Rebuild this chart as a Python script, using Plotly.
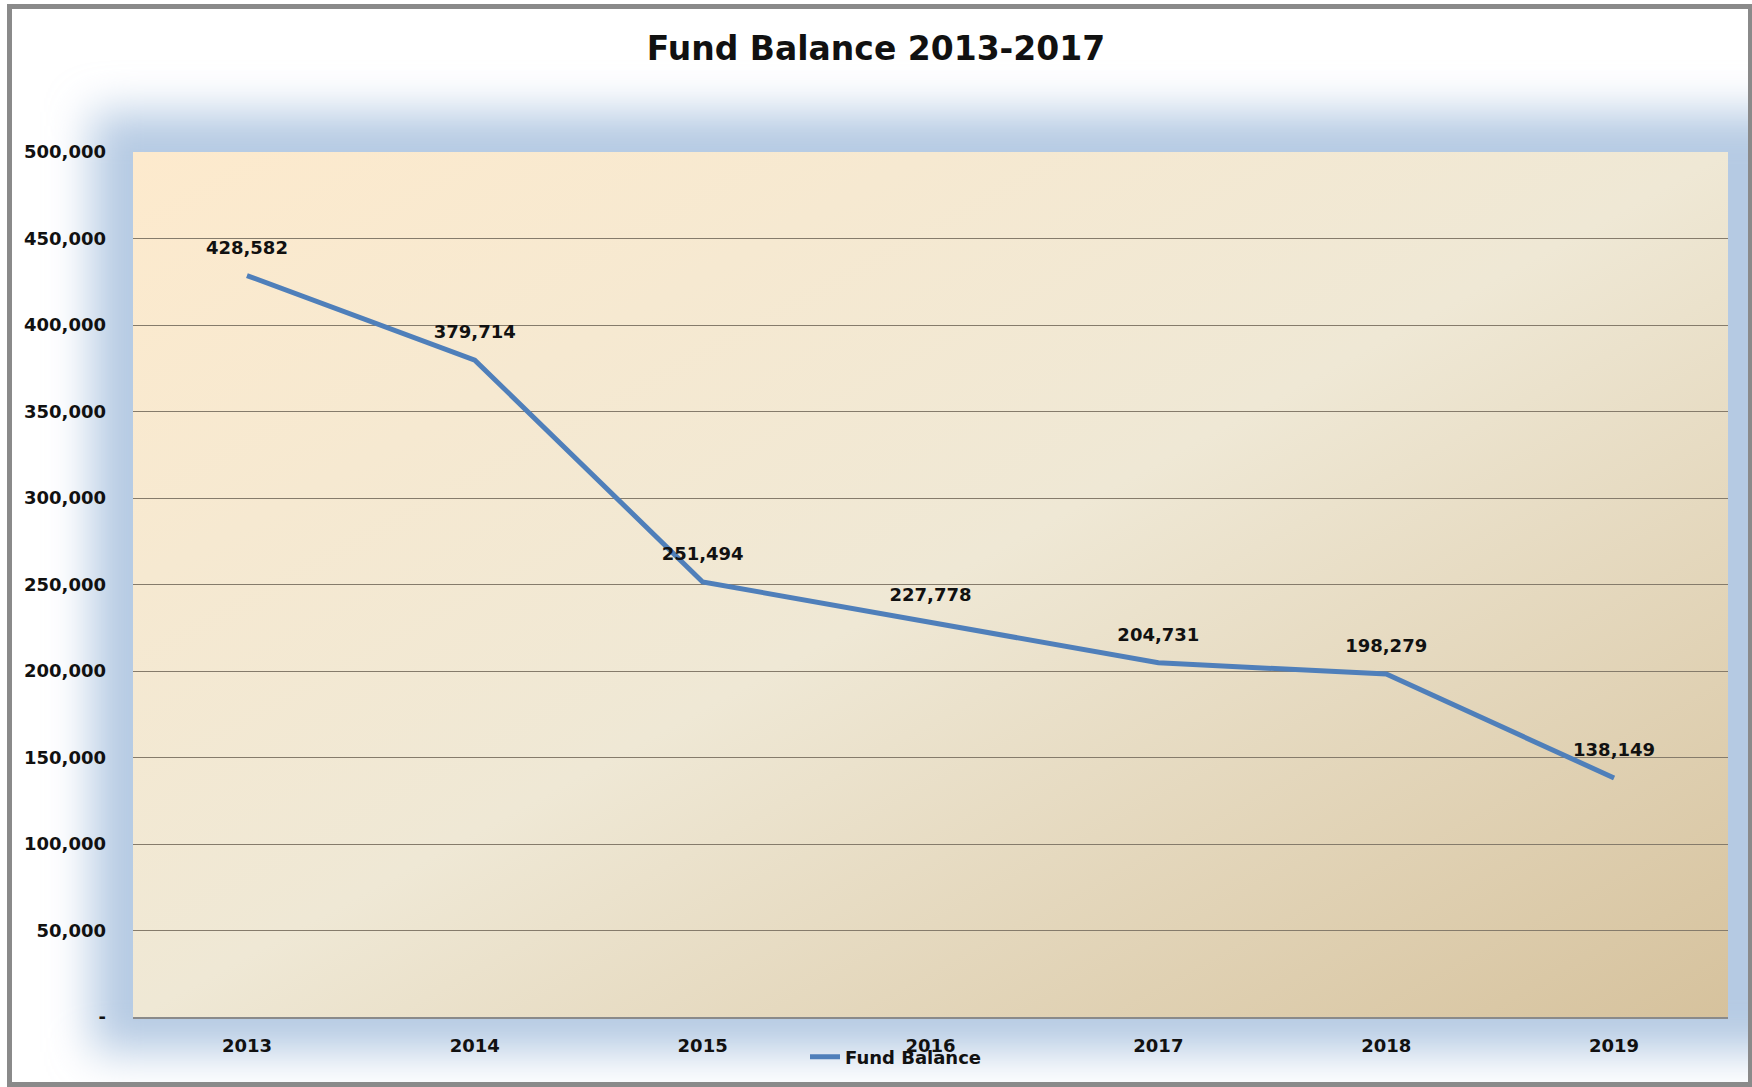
import base64
import plotly.graph_objects as go

# ---- data ----
years = ["2013", "2014", "2015", "2016", "2017", "2018", "2019"]
fund_balance = [428582, 379714, 251494, 227778, 204731, 198279, 138149]
y_tick_values = [0, 50000, 100000, 150000, 200000, 250000, 300000, 350000, 400000, 450000, 500000]
y_tick_labels = ["-", "50,000", "100,000", "150,000", "200,000", "250,000",
                 "300,000", "350,000", "400,000", "450,000", "500,000"]
title_text = "Fund Balance 2013-2017"
series_name = "Fund Balance"

# ---- layout geometry ----
W, H = 1752, 1087
L, R, T, B = 133, 24, 152, 70
PW, PH = W - L - R, H - T - B

FONT = "DejaVu Sans"


def svg_uri(svg):
    return "data:image/svg+xml;base64," + base64.b64encode(svg.encode("utf-8")).decode("ascii")


bg_svg = f'''<svg xmlns="http://www.w3.org/2000/svg" width="{W}" height="{H}" viewBox="0 0 {W} {H}">
<defs><filter id="b" x="-20%" y="-20%" width="140%" height="140%"><feGaussianBlur stdDeviation="22"/></filter></defs>
<rect width="{W}" height="{H}" fill="#ffffff"/>
<rect x="92" y="112" width="1720" height="940" fill="#b5cae3" filter="url(#b)"/>
<rect x="9.5" y="6.5" width="1741" height="1078" fill="none" stroke="#8a8a8a" stroke-width="5"/>
</svg>'''

plot_svg = f'''<svg xmlns="http://www.w3.org/2000/svg" width="{PW}" height="{PH}" viewBox="0 0 {PW} {PH}">
<defs><linearGradient id="g" x1="0" y1="0" x2="1" y2="1">
<stop offset="0" stop-color="#fdeacd"/>
<stop offset="0.5" stop-color="#efe8d5"/>
<stop offset="1" stop-color="#d6c29d"/>
</linearGradient></defs>
<rect width="{PW}" height="{PH}" fill="url(#g)"/>
</svg>'''

fig = go.Figure()

fig.add_trace(go.Scatter(
    x=years, y=fund_balance, name=series_name, mode="lines",
    line=dict(color="#4f7fba", width=5),
    hoverinfo="skip",
))

fig.add_trace(go.Scatter(
    x=years, y=fund_balance, mode="markers+text", showlegend=False,
    marker=dict(size=26, color="rgba(0,0,0,0)"),
    text=[f"{v:,}" for v in fund_balance], textposition="top center",
    textfont=dict(family=FONT, size=18, color="#111111", weight="bold"),
    hoverinfo="skip",
))

fig.update_layout(
    width=W, height=H,
    margin=dict(l=L, r=R, t=T, b=B),
    paper_bgcolor="rgba(0,0,0,0)",
    plot_bgcolor="rgba(0,0,0,0)",
    title=dict(text=title_text, x=0.5, xanchor="center", y=1 - 48 / H, yanchor="middle",
               font=dict(family=FONT, size=33, color="#111111", weight="bold")),
    font=dict(family=FONT, size=18, color="#111111", weight="bold"),
    showlegend=True,
    legend=dict(orientation="h", x=(896 - L) / PW, xanchor="center",
                y=(H - B - 1057) / PH, yanchor="middle",
                bgcolor="rgba(0,0,0,0)",
                font=dict(family=FONT, size=18, color="#111111", weight="bold")),
    images=[
        dict(source=svg_uri(bg_svg), xref="paper", yref="paper",
             x=-L / PW, y=(H - B) / PH, sizex=W / PW, sizey=H / PH,
             xanchor="left", yanchor="top", sizing="stretch", layer="below"),
        dict(source=svg_uri(plot_svg), xref="paper", yref="paper",
             x=0, y=1, sizex=1, sizey=1,
             xanchor="left", yanchor="top", sizing="stretch", layer="below"),
    ],
)

fig.update_xaxes(
    type="category", range=[-0.5, 6.5],
    showgrid=False, showline=True, linecolor="#8a8a8a", linewidth=2,
    ticks="", ticklabelstandoff=11,
    tickfont=dict(family=FONT, size=18, color="#111111", weight="bold"),
)
fig.update_yaxes(
    range=[0, 500000], tickvals=y_tick_values, ticktext=y_tick_labels,
    showgrid=True, gridcolor="#857b6b", gridwidth=1, zeroline=False,
    showline=False, ticks="", ticklabelstandoff=26,
    tickfont=dict(family=FONT, size=18, color="#111111", weight="bold"),
)

fig.write_html("out.html")
